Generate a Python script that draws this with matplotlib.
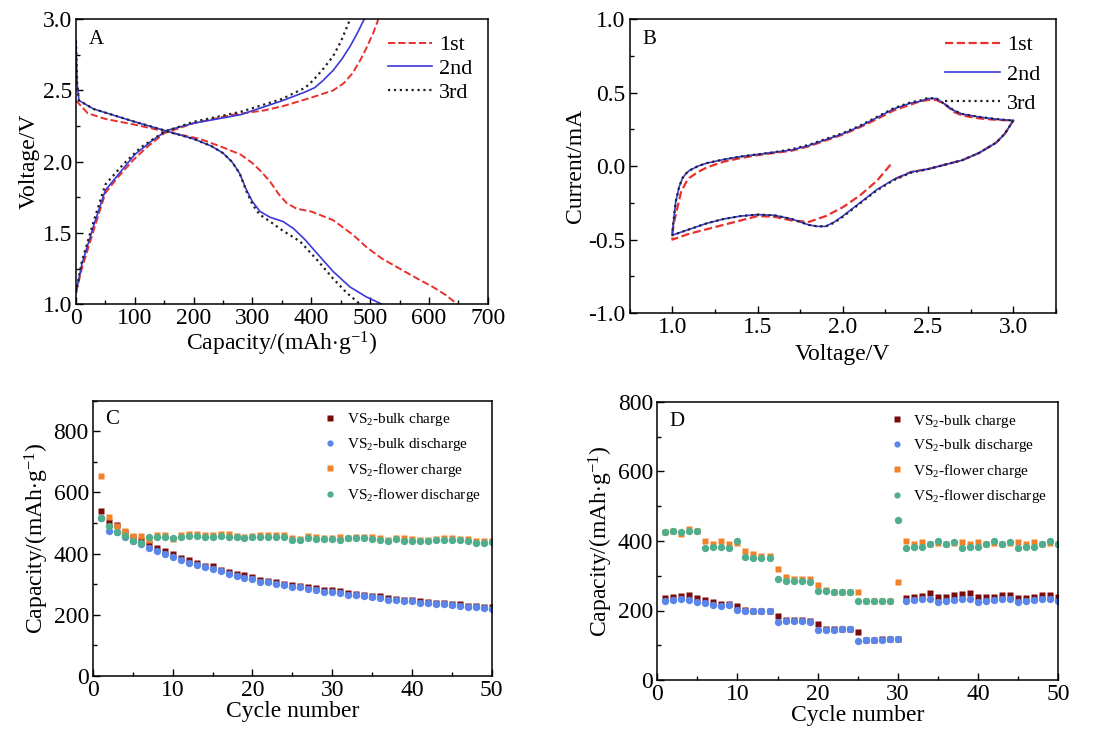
import numpy as np
import matplotlib
matplotlib.use("Agg")
import matplotlib.pyplot as plt
from matplotlib.ticker import MultipleLocator

plt.rcParams['font.family'] = ['Liberation Serif', 'DejaVu Serif']
plt.rcParams['mathtext.fontset'] = 'custom'
plt.rcParams['mathtext.rm'] = 'Liberation Serif'
plt.rcParams['mathtext.it'] = 'Liberation Serif:italic'
plt.rcParams['axes.unicode_minus'] = False

# ---- A: charge / discharge profiles ----
dis1_cap = [0, 20, 50, 100, 154, 211, 250, 280, 300, 315, 330, 345, 358, 375, 400, 437, 470, 494, 520, 550, 580, 607, 630, 648]
dis1_v = [2.43, 2.34, 2.30, 2.26, 2.21, 2.16, 2.10, 2.05, 1.99, 1.93, 1.86, 1.77, 1.71, 1.67, 1.65, 1.59, 1.49, 1.40, 1.32, 1.25, 1.18, 1.12, 1.06, 1.0]
chg1_cap = [0, 10, 25, 40, 50, 69, 97, 120, 150, 200, 267, 320, 352, 400, 437, 455, 470, 483, 494, 505, 514]
chg1_v = [1.08, 1.25, 1.45, 1.65, 1.78, 1.88, 2.01, 2.10, 2.20, 2.27, 2.33, 2.36, 2.39, 2.45, 2.50, 2.55, 2.62, 2.71, 2.80, 2.90, 3.0]

dis2_cap = [0, 2, 5, 30, 100, 150, 200, 230, 250, 265, 278, 290, 300, 313, 330, 352, 370, 390, 409, 437, 466, 494, 520]
dis2_v = [2.85, 2.55, 2.43, 2.37, 2.28, 2.22, 2.16, 2.11, 2.06, 2.00, 1.92, 1.80, 1.72, 1.65, 1.61, 1.58, 1.53, 1.45, 1.36, 1.23, 1.12, 1.05, 1.0]
chg2_cap = [0, 10, 30, 50, 70, 100, 130, 155, 200, 280, 352, 390, 406, 420, 437, 452, 466, 478, 490]
chg2_v = [1.08, 1.28, 1.55, 1.80, 1.90, 2.05, 2.15, 2.22, 2.27, 2.33, 2.43, 2.49, 2.52, 2.57, 2.64, 2.72, 2.81, 2.90, 3.0]

dis3_cap = [0, 2, 5, 30, 100, 150, 200, 230, 250, 265, 278, 290, 300, 312, 330, 350, 381, 410, 437, 460, 483]
dis3_v = [2.85, 2.55, 2.43, 2.37, 2.28, 2.22, 2.16, 2.11, 2.06, 2.00, 1.92, 1.79, 1.70, 1.63, 1.58, 1.52, 1.44, 1.31, 1.18, 1.08, 1.0]
chg3_cap = [0, 10, 30, 50, 80, 110, 150, 200, 280, 350, 390, 403, 420, 437, 450, 466]
chg3_v = [1.08, 1.30, 1.58, 1.84, 1.98, 2.10, 2.21, 2.28, 2.35, 2.44, 2.52, 2.57, 2.65, 2.74, 2.84, 3.0]

# ---- B: cyclic voltammetry ----
cv1_v = [2.28, 2.2, 2.1, 2.0, 1.9, 1.8, 1.7, 1.6, 1.5, 1.4, 1.3, 1.2, 1.1, 1.05, 1.0,
         1.0, 1.01, 1.03, 1.05, 1.08, 1.1, 1.15, 1.2, 1.3, 1.4, 1.5, 1.6, 1.7, 1.8, 1.9,
         2.0, 2.1, 2.2, 2.3, 2.4, 2.45, 2.5, 2.55, 2.6, 2.65, 2.7, 2.8, 2.9, 3.0,
         2.95, 2.9, 2.8, 2.7, 2.6, 2.5, 2.4, 2.3]
cv1_i = [0.01, -0.10, -0.20, -0.28, -0.34, -0.38, -0.37, -0.345, -0.34, -0.37, -0.40, -0.43, -0.46, -0.48, -0.50,
         -0.46, -0.38, -0.28, -0.18, -0.11, -0.08, -0.04, -0.01, 0.03, 0.055, 0.075, 0.09, 0.105, 0.135, 0.175,
         0.215, 0.265, 0.32, 0.38, 0.42, 0.44, 0.45, 0.45, 0.42, 0.37, 0.345, 0.325, 0.315, 0.31,
         0.22, 0.16, 0.09, 0.04, 0.01, -0.02, -0.04, -0.09]

cv2_v = [3.0, 2.95, 2.9, 2.8, 2.7, 2.6, 2.5, 2.4, 2.3, 2.2, 2.1, 2.0, 1.95, 1.9, 1.85, 1.8, 1.7, 1.6,
         1.5, 1.4, 1.3, 1.2, 1.1, 1.05, 1.0, 1.0, 1.01, 1.02, 1.04, 1.06, 1.08, 1.1, 1.15, 1.2, 1.3,
         1.4, 1.5, 1.6, 1.7, 1.8, 1.9, 2.0, 2.1, 2.2, 2.3, 2.4, 2.45, 2.5, 2.55, 2.6, 2.65, 2.7, 2.8,
         2.9, 3.0]
cv2_i = [0.31, 0.22, 0.16, 0.09, 0.04, 0.01, -0.02, -0.04, -0.09, -0.16, -0.25, -0.34, -0.38, -0.41,
         -0.41, -0.40, -0.36, -0.335, -0.33, -0.34, -0.36, -0.39, -0.43, -0.45, -0.47, -0.45, -0.34,
         -0.24, -0.14, -0.08, -0.05, -0.03, 0.0, 0.02, 0.045, 0.065, 0.08, 0.095, 0.11, 0.14, 0.18,
         0.22, 0.27, 0.33, 0.39, 0.43, 0.44, 0.46, 0.46, 0.42, 0.38, 0.355, 0.335, 0.32, 0.31]
cv3_i = [0.31, 0.22, 0.16, 0.09, 0.04, 0.01, -0.02, -0.045, -0.095, -0.165, -0.255, -0.345, -0.385, -0.41,
         -0.41, -0.40, -0.36, -0.335, -0.33, -0.34, -0.36, -0.39, -0.43, -0.45, -0.47, -0.45, -0.34,
         -0.24, -0.14, -0.08, -0.05, -0.03, 0.0, 0.02, 0.045, 0.065, 0.08, 0.095, 0.115, 0.145, 0.185,
         0.225, 0.275, 0.335, 0.395, 0.435, 0.445, 0.465, 0.46, 0.42, 0.38, 0.355, 0.335, 0.32, 0.31]

# ---- C: cycling ----
cycles = np.arange(1, 51)
c_bulk_chg = [540, 505, 495, 470, 455, 445, 430, 420, 410, 400, 385, 380, 370, 360, 358, 348, 340, 335, 330, 325,
              315, 312, 308, 302, 297, 295, 292, 287, 282, 280, 278, 270, 268, 265, 262, 260, 255, 252, 250, 248,
              246, 243, 240, 238, 236, 235, 230, 228, 226, 224]
c_bulk_dis = [515, 475, 470, 455, 440, 432, 420, 410, 400, 390, 378, 370, 362, 355, 350, 342, 333, 328, 322, 318,
              308, 306, 302, 296, 290, 290, 286, 282, 276, 275, 272, 265, 264, 261, 258, 255, 250, 248, 246, 244,
              240, 238, 236, 234, 232, 230, 226, 224, 222, 220]
c_flow_chg = [655, 520, 490, 475, 458, 458, 445, 460, 460, 448, 460, 465, 465, 460, 460, 463, 463, 458, 455, 458,
              460, 460, 460, 460, 450, 448, 458, 455, 450, 450, 455, 452, 455, 456, 455, 450, 445, 450, 450, 448,
              443, 443, 448, 450, 450, 448, 448, 440, 440, 440]
c_flow_dis = [515, 490, 470, 458, 440, 435, 455, 455, 455, 452, 455, 458, 458, 455, 455, 458, 455, 455, 452, 455,
              455, 455, 455, 455, 445, 446, 450, 448, 448, 448, 446, 450, 450, 450, 448, 446, 440, 448, 442, 442,
              440, 440, 444, 445, 445, 444, 442, 436, 436, 438]

# ---- D: rate capability ----
d_bulk_chg = [236, 238, 242, 244, 236, 230, 225, 218, 218, 212, 202, 200, 200, 200, 185, 172, 172, 172, 170, 160,
              148, 148, 148, 148, 138, 115, 115, 118, 118, 118, 236, 238, 242, 250, 240, 240, 245, 248, 250, 240,
              240, 240, 244, 245, 236, 236, 240, 244, 244, 238]
d_bulk_dis = [228, 230, 232, 230, 224, 222, 216, 214, 216, 202, 200, 200, 200, 200, 168, 170, 170, 170, 168, 144,
              144, 145, 146, 148, 112, 114, 115, 116, 118, 118, 228, 230, 232, 232, 224, 228, 230, 232, 232, 224,
              228, 230, 232, 232, 224, 228, 230, 232, 232, 226]
d_flow_chg = [425, 430, 420, 435, 430, 400, 390, 400, 390, 395, 372, 362, 358, 358, 318, 295, 290, 290, 290, 272,
              258, 252, 252, 252, 252, 228, 228, 228, 228, 282, 400, 390, 398, 390, 395, 392, 395, 398, 390, 398,
              390, 395, 392, 395, 398, 390, 398, 392, 395, 392]
d_flow_dis = [425, 428, 425, 428, 430, 380, 382, 382, 380, 400, 355, 352, 350, 350, 290, 286, 286, 286, 282, 255,
              255, 252, 252, 252, 228, 228, 228, 228, 228, 460, 380, 384, 384, 390, 400, 390, 396, 380, 384, 384,
              390, 400, 390, 396, 380, 384, 384, 390, 400, 390]

series_labels = [r'VS$_2$-bulk charge', r'VS$_2$-bulk discharge',
                 r'VS$_2$-flower charge', r'VS$_2$-flower discharge']
series_colors = ['#7a0a0a', '#5a86ec', '#f2822a', '#4fae8c']
series_markers = ['s', 'o', 's', 'o']

fig = plt.figure(figsize=(11.01, 7.40), dpi=100)
axA = fig.add_axes([0.069, 0.589, 0.374, 0.385])
axB = fig.add_axes([0.572, 0.577, 0.387, 0.397])
axC = fig.add_axes([0.0845, 0.0865, 0.362, 0.372])
axD = fig.add_axes([0.597, 0.081, 0.364, 0.376])

FS = 17


def style(ax):
    ax.tick_params(which='both', direction='in', top=False, right=False, labelsize=FS)
    ax.tick_params(which='major', length=5, width=1.0, pad=3)
    ax.tick_params(which='minor', length=3, width=1.0)
    for s in ax.spines.values():
        s.set_linewidth(1.1)


cap_label = r'Capacity/(mAh$\cdot$g$^{\mathregular{-1}}$)'

# A
styles = [('--', '#e8302c', '1st', 1.4), ('-', '#3a3ad8', '2nd', 1.2), (':', '#222222', '3rd', 1.6)]
curves = [(dis1_cap, dis1_v, chg1_cap, chg1_v), (dis2_cap, dis2_v, chg2_cap, chg2_v),
          (dis3_cap, dis3_v, chg3_cap, chg3_v)]
for (ls, col, lab, lw), (dc, dv, cc, cvv) in zip(styles, curves):
    axA.plot(dc, dv, ls=ls, color=col, lw=lw, label=lab)
    axA.plot(cc, cvv, ls=ls, color=col, lw=lw)
axA.set_xlim(0, 700)
axA.set_ylim(1.0, 3.0)
axA.xaxis.set_major_locator(MultipleLocator(100))
axA.xaxis.set_minor_locator(MultipleLocator(50))
axA.yaxis.set_major_locator(MultipleLocator(0.5))
axA.yaxis.set_minor_locator(MultipleLocator(0.25))
axA.set_xlabel(cap_label, fontsize=FS, labelpad=0)
axA.set_ylabel('Voltage/V', fontsize=FS, labelpad=2)
axA.text(0.03, 0.93, 'A', transform=axA.transAxes, fontsize=15, va='center')
axA.legend(loc='upper right', frameon=False, fontsize=16, handlelength=2.0, labelspacing=0.15,
           handletextpad=0.3, borderaxespad=0.3)
style(axA)

# B
axB.plot(cv1_v, cv1_i, ls='--', color='#e8302c', lw=1.6, label='1st')
axB.plot(cv2_v, cv2_i, ls='-', color='#3a3ad8', lw=1.2, label='2nd')
axB.plot(cv2_v, cv3_i, ls=':', color='#222222', lw=1.6, label='3rd')
axB.set_xlim(0.75, 3.25)
axB.set_ylim(-1.0, 1.0)
axB.xaxis.set_major_locator(MultipleLocator(0.5))
axB.xaxis.set_minor_locator(MultipleLocator(0.25))
axB.yaxis.set_major_locator(MultipleLocator(0.5))
axB.yaxis.set_minor_locator(MultipleLocator(0.25))
axB.set_xlabel('Voltage/V', fontsize=FS, labelpad=4)
axB.set_ylabel('Current/mA', fontsize=FS, labelpad=2)
axB.text(0.03, 0.93, 'B', transform=axB.transAxes, fontsize=15, va='center')
axB.legend(loc='upper right', frameon=False, fontsize=16, handlelength=2.5, labelspacing=0.4,
           handletextpad=0.3, borderaxespad=0.3)
style(axB)

# C and D
for ax, data, ymax, letter in [(axC, [c_bulk_chg, c_bulk_dis, c_flow_chg, c_flow_dis], 900, 'C'),
                               (axD, [d_bulk_chg, d_bulk_dis, d_flow_chg, d_flow_dis], 800, 'D')]:
    for vals, col, mk, lab in zip(data, series_colors, series_markers, series_labels):
        ax.plot(cycles, vals, ls='none', marker=mk, ms=4.8 if mk == 's' else 5.3, color=col,
                mec='none', label=lab)
    ax.set_xlim(0, 50)
    ax.set_ylim(0, ymax)
    ax.xaxis.set_major_locator(MultipleLocator(10))
    ax.xaxis.set_minor_locator(MultipleLocator(5))
    ax.yaxis.set_major_locator(MultipleLocator(200))
    ax.yaxis.set_minor_locator(MultipleLocator(100))
    ax.set_xlabel('Cycle number', fontsize=FS, labelpad=0)
    ax.set_ylabel(cap_label, fontsize=FS, labelpad=2)
    ax.text(0.03, 0.93, letter, transform=ax.transAxes, fontsize=15, va='center')
    ax.legend(loc='upper right', frameon=False, fontsize=11, handlelength=1.0, labelspacing=0.5,
              handletextpad=0.6, borderaxespad=0.3, markerscale=0.85)
    style(ax)

fig.savefig('out.png', dpi=100)
